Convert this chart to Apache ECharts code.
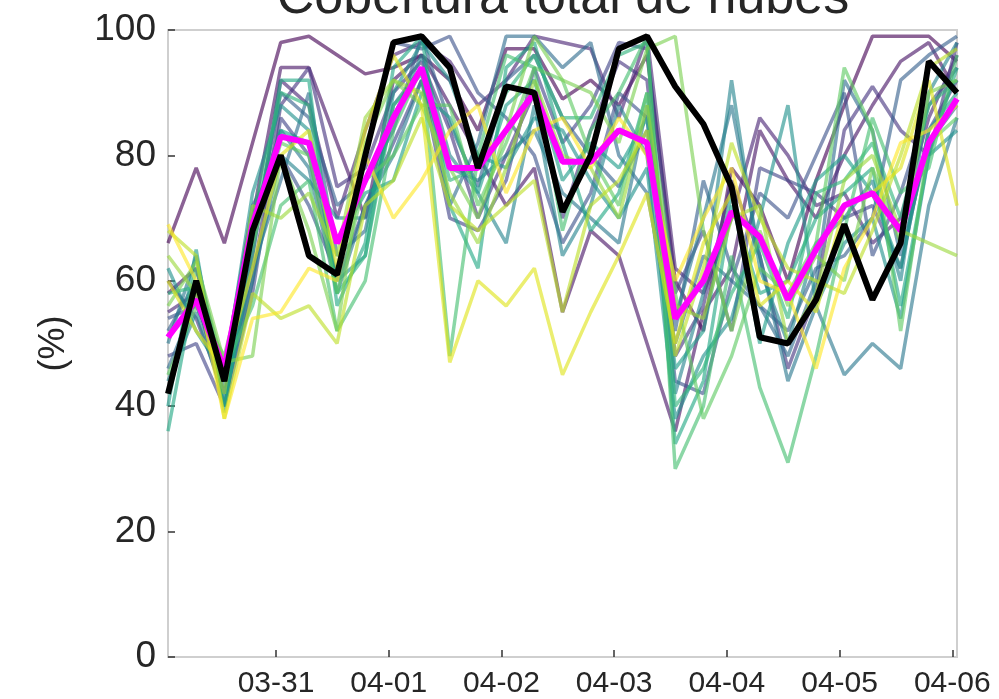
<!DOCTYPE html>
<html>
<head>
<meta charset="utf-8">
<script src="https://cdn.jsdelivr.net/npm/echarts@6/dist/echarts.min.js"></script>
<style>html,body{margin:0;padding:0;background:#fff;}#c{width:999px;height:699px;}</style>
</head>
<body>
<div id="c"></div>
<script>
// Hours since first forecast step (6-hourly)
const hours = [0,6,12,18,24,30,36,42,48,54,60,66,72,78,84,90,96,102,108,114,120,126,132,138,144,150,156,162,168];
const tickHours = [23,47,71,95,119,143,167];
const tickLabels = ['03-31','04-01','04-02','04-03','04-04','04-05','04-06'];
const yTicks = [0,20,40,60,80,100];

// Ensemble members (%)
const member00 = [66,78,66,82,98,99,96,93,94,96,92,84,97,97,89,92,88,96,60,52,78,72,60,76,88,99,99,99,95];
const member01 = [58,62,44,70,94,94,82,70,92,96,88,80,72,78,55,68,64,50,36,55,62,84,76,70,80,88,95,98,90];
const member02 = [55,58,40,64,92,88,70,84,96,98,95,88,92,99,98,97,86,99,62,58,70,86,80,72,74,66,70,86,96];
const member03 = [60,54,42,60,88,94,75,78,90,95,84,70,80,90,70,84,95,92,48,56,76,64,46,58,84,91,84,80,98];
const member04 = [48,50,40,58,86,80,60,72,82,92,70,68,76,94,82,88,98,97,58,68,52,78,76,74,70,72,62,84,92];
const member05 = [54,56,46,72,80,72,61,80,98,97,99,90,86,80,66,74,90,86,44,42,60,74,70,80,90,64,74,88,94];
const member06 = [52,60,44,66,90,86,72,76,84,99,85,75,92,96,86,80,75,84,52,76,62,56,52,62,64,70,92,96,99];
const member07 = [46,57,42,62,76,90,64,68,88,94,72,82,99,99,94,98,80,74,50,64,60,56,48,60,92,84,64,82,88];
const member08 = [50,64,43,70,84,78,58,72,80,92,78,76,80,84,74,70,66,88,54,70,88,64,44,56,45,50,46,72,86];
const member09 = [44,55,41,60,80,76,70,70,86,96,80,74,66,88,64,72,88,80,42,58,92,62,50,66,70,76,60,90,98];
const member10 = [62,52,45,74,88,84,60,64,90,98,92,80,78,86,84,76,70,78,38,48,54,70,88,56,66,70,54,80,84];
const member11 = [40,65,39,68,84,82,66,74,76,90,86,74,88,92,76,82,78,86,46,52,74,50,66,76,80,74,62,84,90];
const member12 = [36,60,40,64,92,92,56,66,94,99,72,62,94,98,82,68,74,90,34,44,72,58,60,70,74,78,56,80,94];
const member13 = [58,59,44,70,90,88,58,64,88,93,76,78,90,96,86,86,96,98,40,46,58,66,54,74,76,82,70,88,92];
const member14 = [42,62,46,56,72,76,52,60,84,94,48,80,96,94,68,84,90,99,30,40,64,43,31,48,68,86,74,78,96];
const member15 = [45,56,48,66,82,80,58,76,80,88,88,72,82,94,92,80,72,90,58,38,48,62,58,66,94,84,52,82,86];
const member16 = [56,63,47,48,80,68,52,82,92,88,78,70,84,99,92,90,82,97,99,68,52,68,56,64,60,78,66,90,92];
const member17 = [64,58,42,72,70,74,64,86,92,90,74,66,78,92,80,78,70,88,56,54,70,72,50,58,76,80,68,66,64];
const member18 = [68,64,38,58,54,56,50,72,76,86,72,68,72,76,55,72,76,84,48,62,82,70,62,60,58,68,80,94,97];
const member19 = [60,52,46,62,80,84,62,84,96,88,47,60,56,62,45,55,64,74,50,66,74,56,60,55,72,74,78,92,72];
const member20 = [69,60,38,54,55,62,60,80,70,76,84,88,74,84,86,78,86,80,60,70,78,60,58,46,62,70,82,84,88];

// Ensemble mean and control run (%)
const ensembleMean = [51,57,46,69,83,82,66,76,86,94,78,78,84,90,79,79,84,82,54,60,71,67,57,65,72,74,68,82,89];
const controlRun   = [42,60,44,68,80,64,61,80,98,99,94,78,91,90,71,80,97,99,91,85,75,51,50,57,69,57,66,95,90];

const members = [member00,member01,member02,member03,member04,member05,member06,member07,member08,member09,member10,
                 member11,member12,member13,member14,member15,member16,member17,member18,member19,member20];
const memberColors = ['#440154','#471365','#482475','#463480','#414487','#3b528b','#355f8d','#2f6c8e','#2a788e','#25848e',
                      '#21918c','#1e9c89','#22a884','#2fb47c','#44bf70','#5ec962','#7ad151','#9bd93c','#bddf26','#dfe318','#fde725'];

const toPairs = arr => hours.map((h, i) => [h, arr[i]]);
const FONT = '"Liberation Sans", Arial, sans-serif';

const series = members.map((m, i) => ({
  type: 'line', data: toPairs(m), symbol: 'none', silent: true,
  lineStyle: { color: memberColors[i], width: 3.5, opacity: 0.62 }, z: 2
}));
series.push({ type: 'line', data: toPairs(ensembleMean), symbol: 'none', silent: true,
  lineStyle: { color: '#ff00ff', width: 6 }, z: 3 });
series.push({ type: 'line', data: toPairs(controlRun), symbol: 'none', silent: true,
  lineStyle: { color: '#000000', width: 6 }, z: 4 });

const chart = echarts.init(document.getElementById('c'), null, { renderer: 'canvas' });
chart.setOption({
  animation: false,
  backgroundColor: '#ffffff',
  graphic: [{
    type: 'text', x: 563, y: 25, z: 10,
    style: { text: 'Cobertura total de nubes', font: '52px ' + FONT, fill: '#262626',
             textAlign: 'center', textVerticalAlign: 'bottom' }
  }],
  grid: { left: 168, right: 42, top: 30, bottom: 42, show: true, borderColor: '#cfcfcf', borderWidth: 2, backgroundColor: 'transparent' },
  xAxis: {
    type: 'value', min: 0, max: 168,
    axisLine: { show: true, lineStyle: { color: '#cfcfcf', width: 2 } },
    splitLine: { show: false },
    axisTick: { show: true, inside: true, length: 7, lineStyle: { color: '#333', width: 1.5 }, customValues: tickHours },
    axisLabel: { customValues: tickHours, margin: 12, color: '#262626', fontSize: 30, fontFamily: FONT,
                 formatter: v => { const i = tickHours.indexOf(v); return i >= 0 ? tickLabels[i] : ''; } }
  },
  yAxis: {
    type: 'value', min: yTicks[0], max: yTicks[yTicks.length - 1], interval: 20,
    name: '(%)', nameLocation: 'middle', nameGap: 96,
    nameTextStyle: { color: '#262626', fontSize: 36, fontFamily: FONT },
    axisLine: { show: true, lineStyle: { color: '#cfcfcf', width: 2 } },
    splitLine: { show: false },
    axisTick: { show: true, inside: true, length: 7, lineStyle: { color: '#333', width: 1.5 } },
    axisLabel: { margin: 12, color: '#262626', fontSize: 37, fontFamily: FONT }
  },
  series: series
});
</script>
</body>
</html>
